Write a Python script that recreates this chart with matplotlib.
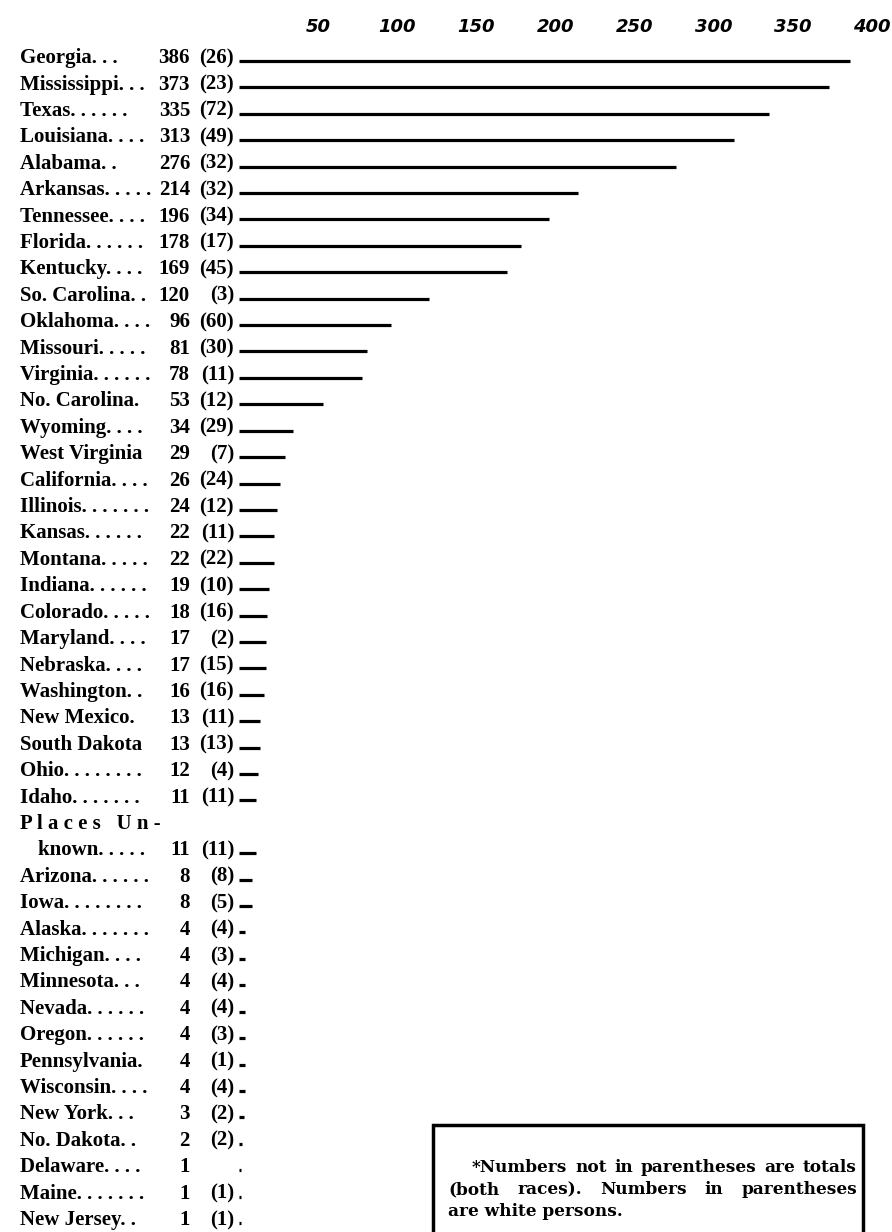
import matplotlib
matplotlib.use("Agg")
import matplotlib.pyplot as plt
from matplotlib.patches import Rectangle

# rows as printed (dot leaders included), totals and white persons
states = ["Georgia...", "Mississippi...", "Texas. .....", "Louisiana....", "Alabama..",
          "Arkansas.....", "Tennessee....", "Florida......", "Kentucky....", "So. Carolina..",
          "Oklahoma....", "Missouri.....", "Virginia......", "No. Carolina.", "Wyoming....",
          "West Virginia", "California....", "Illinois.......", "Kansas......", "Montana.....",
          "Indiana......", "Colorado.....", "Maryland....", "Nebraska....", "Washington..",
          "New Mexico.", "South Dakota", "Ohio........", "Idaho.......", "Places Un-|known.....",
          "Arizona......", "Iowa........", "Alaska.......", "Michigan....", "Minnesota...",
          "Nevada......", "Oregon......", "Pennsylvania.", "Wisconsin....", "New York...",
          "No. Dakota..", "Delaware....", "Maine.......", "New Jersey.."]
totals = [386, 373, 335, 313, 276, 214, 196, 178, 169, 120, 96, 81, 78, 53, 34, 29, 26, 24,
          22, 22, 19, 18, 17, 17, 16, 13, 13, 12, 11, 11, 8, 8, 4, 4, 4, 4, 4, 4, 4, 3, 2, 1, 1, 1]
whites = [26, 23, 72, 49, 32, 32, 34, 17, 45, 3, 60, 30, 11, 12, 29, 7, 24, 12, 11, 22, 10,
          16, 2, 15, 16, 11, 13, 4, 11, 11, 8, 5, 4, 3, 4, 4, 3, 1, 4, 2, 2, None, 1, 1]
scale_ticks = [50, 100, 150, 200, 250, 300, 350, 400]
note = ["*Numbers not in parentheses are totals",
        "(both races).  Numbers in parentheses",
        "are white persons."]

W, H = 892, 1232
fig = plt.figure(figsize=(W / 100, H / 100), dpi=100)
ax = fig.add_axes([0, 0, 1, 1])

# 0 sits at x=239px, 1.583 px per unit; rows 26.41 px apart, first at y=61px
px_per_unit = 1.583
ax.set_xlim(-239 / px_per_unit, (W - 239) / px_per_unit)
row_h = 26.41
ax.set_ylim(44 + (H - 1223) / row_h, -61 / row_h)

for s in ax.spines.values():
    s.set_visible(False)
ax.set_yticks([])
ax.xaxis.tick_top()
ax.set_xticks(scale_ticks)
ax.set_xticklabels([str(t) for t in scale_ticks], fontsize=13, fontweight="bold",
                   fontstyle="italic", family="DejaVu Sans")
ax.tick_params(axis="x", length=0, pad=-26)

def px(x):
    return (x - 239) / px_per_unit

lab = dict(family="Liberation Serif", fontweight="bold", fontsize=15, va="baseline", color="black")

def leaders(s):
    base = s.rstrip(".")
    n = len(s) - len(base)
    return base + (". " * n).rstrip()

row = 0
for name, tot, wh in zip(states, totals, whites):
    if "|" in name:
        first, second = name.split("|")
        ax.text(px(20), row + 0.08, " ".join(first), **lab)
        row += 1
        ax.text(px(38), row + 0.08, leaders(second), **lab)
    else:
        ax.text(px(20), row + 0.08, leaders(name), **lab)
    ax.text(px(190), row + 0.08, str(tot), ha="right", **lab)
    if wh is not None:
        ax.text(px(234), row + 0.08, f"({wh})", ha="right", **lab)
    ax.hlines(row, 0, tot, color="black", lw=2.3, capstyle="butt")
    row += 1

# footnote box
box = Rectangle((433 / W, -0.02), (863 - 433) / W, 0.02 + (H - 1125) / H, transform=fig.transFigure,
                fill=False, lw=2.5, edgecolor="black", clip_on=False)
fig.patches.append(box)

nkw = dict(family="DejaVu Serif", fontweight="bold", fontsize=12.2, va="center", color="black")
renderer = fig.canvas.get_renderer()

def justify(line, x0, x1, y):
    words = line.split()
    texts = [fig.text(0, 1 - y / H, w, **nkw) for w in words]
    widths = [t.get_window_extent(renderer).width for t in texts]
    gap = (x1 - x0 - sum(widths)) / (len(words) - 1)
    x = x0
    for t, w in zip(texts, widths):
        t.set_x(x / W)
        x += w + gap

justify(note[0], 472, 857, 1168)
justify(note[1], 448, 857, 1190)
fig.text(448 / W, 1 - 1211 / H, note[2], **nkw)

fig.savefig("out.png", dpi=100, facecolor="white")
